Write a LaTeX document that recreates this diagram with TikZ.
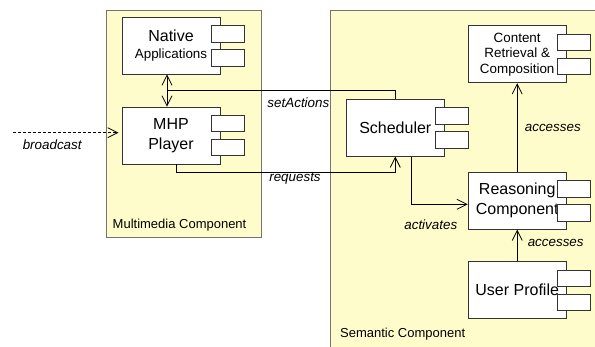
\documentclass[tikz,border=0pt]{standalone}
\usepackage{fontspec}
\setmainfont{Liberation Sans}
\usetikzlibrary{arrows.meta}
\newcommand{\bigf}{\fontsize{16}{19.5}\selectfont}
\newcommand{\smallf}{\fontsize{13.4}{15.5}\selectfont}
\newcommand{\labf}{\fontsize{13.4}{15}\selectfont\itshape}
\begin{document}
\begin{tikzpicture}[x=1pt, y=-1pt,
    group/.style={draw=black!55, fill=yellow!20, line width=0.8pt, inner sep=0pt},
    comp/.style={draw=black!80, fill=white, line width=0.8pt, minimum width=98pt, minimum height=57pt, inner sep=0pt, align=center, font=\bigf},
    tab/.style={draw=black!80, fill=white, line width=0.8pt},
    lbl/.style={anchor=base, inner sep=0pt, font=\labf},
    open/.style={-{Straight Barb[length=10pt,width=10pt]}, line width=0.8pt},
    both/.style={{Straight Barb[length=10pt,width=10pt]}-{Straight Barb[length=10pt,width=10pt]}, line width=0.8pt}]
    \useasboundingbox[fill=white] (0,0) rectangle (595,347);

    \node[group, minimum width=155.7pt, minimum height=227.7pt] (mmedia) at (183.85,123.85) {};
    \node[group, anchor=north west, minimum width=280pt, minimum height=350pt] (semantic) at (330,10) {};
    \node[anchor=base west, inner sep=0pt, font=\fontsize{13}{15}\selectfont] (mmlabel) at (112.5,228.3) {Multimedia Component};
    \node[anchor=base west, inner sep=0pt, font=\fontsize{13}{15}\selectfont] (semlabel) at (340,338) {Semantic Component};

    \node[comp, minimum height=56.3pt, font=\fontsize{16}{16.7}\selectfont] (native) at (171,45.9) {Native\\{\smallf Applications}};
    \node[comp] (mhp) at (171,135.5) {MHP\\Player};
    \node[comp] (sched) at (395.3,127.7) {Scheduler};
    \node[comp, font=\smallf] (content) at (517.2,54.3) {Content\\Retrieval \&\\Composition};
    \node[comp, font=\fontsize{16}{20}\selectfont] (reason) at (517.2,200.7) {Reasoning\\Component};
    \node[comp] (user) at (517.2,290.2) {User Profile};

    \foreach \n in {native,mhp,sched,content,reason,user} {
        \draw[tab] ([xshift=-9pt,yshift=20pt]\n.east) rectangle ++(33,16.3);
        \draw[tab] ([xshift=-9pt,yshift=-4pt]\n.east) rectangle ++(33,16.3);
    }

    \coordinate (bcast) at (13,132.7);
    \coordinate (junc) at (167,90.5);

    \draw[open, dash pattern=on 3pt off 2pt, shorten >=3pt] (bcast) -- (mhp.west |- bcast);
    \draw[both] ([xshift=-4pt]native.south) -- ([xshift=-4pt]mhp.north);
    \draw[line width=0.8pt] (junc) -| (sched.north);
    \draw[open] ([xshift=5pt]mhp.south) -- ++(0,8.3) -| (sched.south);
    \draw[open] ([xshift=15.7pt]sched.south) |- ([yshift=-3.6pt]reason.west);
    \draw[open] (reason.north) -- (content.south);
    \draw[open] (user.north) -- (reason.south);

    \node[lbl] (lbcast) at (52.2,149.5) {broadcast};
    \node[lbl] (lset) at (298.4,107.7) {setActions};
    \node[lbl] (lreq) at (295,182) {requests};
    \node[lbl] (lact) at (430.8,229.3) {activates};
    \node[lbl] (lacc) at (552.8,131.7) {accesses};
    \node[lbl] (lacc2) at (555.7,246.7) {accesses};
\end{tikzpicture}
\end{document}
